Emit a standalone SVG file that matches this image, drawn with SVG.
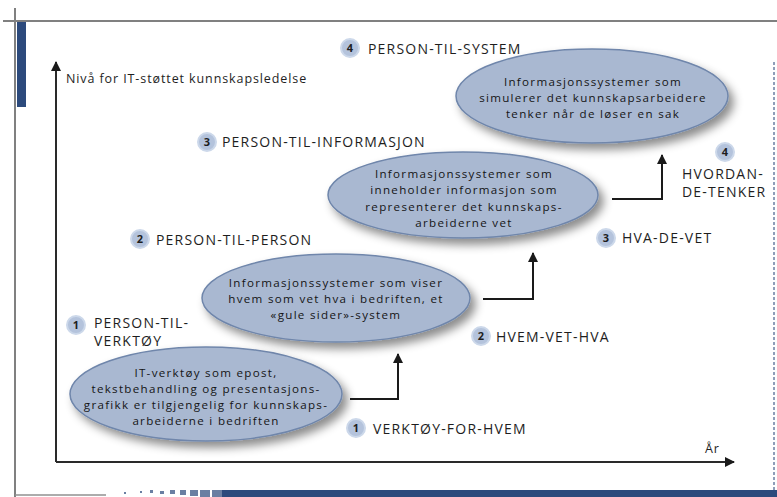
<svg xmlns="http://www.w3.org/2000/svg" width="777" height="497" viewBox="0 0 777 497">
<style>
.frame{stroke:#808080;stroke-width:2;fill:none}
.bar{fill:#2c4a7c}
.axis{stroke:#2a2a2a;stroke-width:2;fill:none}
.conn{stroke:#1a1a1a;stroke-width:2;fill:none}
.ell{fill:#a9b8d1;stroke:#6f86ab;stroke-width:1.5}
.et{font-family:"Open Sans","Noto Sans",sans-serif;font-size:11.6px;fill:#151515;text-anchor:middle;letter-spacing:1.3px}
.lab{font-family:"Open Sans","Noto Sans",sans-serif;font-size:14px;fill:#1e1e1e;letter-spacing:1.2px}
.ax{font-family:"Open Sans","Noto Sans",sans-serif;font-size:12.5px;fill:#1e1e1e;letter-spacing:0.9px}
.badge circle{fill:#b4c3dc;stroke:#ccd8ea;stroke-width:2}
.badge text{font-family:"Open Sans","Noto Sans",sans-serif;font-size:11px;font-weight:bold;fill:#1e1e1e;text-anchor:middle}
</style>
<defs>
<filter id="sh" x="-20%" y="-30%" width="150%" height="170%">
<feDropShadow dx="5" dy="6" stdDeviation="5" flood-color="#000" flood-opacity="0.45"/>
</filter>
<marker id="ah" viewBox="0 0 10 10" refX="9" refY="5" markerWidth="5" markerHeight="5" orient="auto" markerUnits="strokeWidth">
<path d="M0,0 L10,5 L0,10 z" fill="#1a1a1a"/>
</marker>
</defs>
<rect width="777" height="497" fill="#ffffff"/>
<g id="frame">
<line class="frame" x1="3" y1="21" x2="777" y2="21"/>
<line class="frame" x1="15" y1="8" x2="15" y2="497"/>
<rect class="bar" x="17" y="22" width="9" height="85"/>
<line x1="774" y1="62" x2="774" y2="490" stroke="#6b7fa3" stroke-width="1.5" stroke-dasharray="3 2"/>
<rect class="bar" x="222" y="490" width="555" height="7"/>
<line x1="15" y1="495" x2="106" y2="495" stroke="#909090" stroke-width="1.5"/>
<g fill="#2c4a7c" opacity="0.7">
<rect x="124" y="492" width="2" height="2"/><rect x="140" y="491" width="2" height="2"/><rect x="150" y="490" width="3" height="3"/><rect x="160" y="491" width="4" height="3"/><rect x="170" y="490" width="5" height="4"/><rect x="180" y="490" width="6" height="5"/><rect x="190" y="490" width="8" height="6"/><rect x="200" y="490" width="10" height="7"/><rect x="212" y="490" width="10" height="7"/>
</g>
</g>
<g id="axes">
<line class="axis" x1="56" y1="462" x2="56" y2="62" marker-end="url(#ah)"/>
<line class="axis" x1="56" y1="462" x2="734" y2="462" marker-end="url(#ah)"/>
<text class="ax" x="66" y="83">Nivå for IT-støttet kunnskapsledelse</text>
<text class="ax" x="705" y="453">År</text>
</g>
<g id="connectors">
<polyline class="conn" points="350,399 398,399 398,354" marker-end="url(#ah)"/>
<polyline class="conn" points="483,299 533,299 533,253" marker-end="url(#ah)"/>
<polyline class="conn" points="612,199 662,199 662,155" marker-end="url(#ah)"/>
</g>
<g id="node1">
<ellipse class="ell" cx="206" cy="394" rx="136" ry="47" filter="url(#sh)"/>
<text class="et" x="206" y="377">IT-verktøy som epost,</text>
<text class="et" x="206" y="393">tekstbehandling og presentasjons-</text>
<text class="et" x="206" y="409">grafikk er tilgjengelig for kunnskaps-</text>
<text class="et" x="206" y="425">arbeiderne i bedriften</text>
</g>
<g id="node2">
<ellipse class="ell" cx="336" cy="298" rx="134" ry="44" filter="url(#sh)"/>
<text class="et" x="336" y="287">Informasjonssystemer som viser</text>
<text class="et" x="336" y="303">hvem som vet hva i bedriften, et</text>
<text class="et" x="336" y="319">«gule sider»-system</text>
</g>
<g id="node3">
<ellipse class="ell" cx="463" cy="195" rx="135" ry="43" filter="url(#sh)"/>
<text class="et" x="464" y="178">Informasjonssystemer som</text>
<text class="et" x="464" y="194">inneholder informasjon som</text>
<text class="et" x="464" y="211">representerer det kunnskaps-</text>
<text class="et" x="464" y="227">arbeiderne vet</text>
</g>
<g id="node4">
<ellipse class="ell" cx="592" cy="96" rx="136" ry="47" filter="url(#sh)"/>
<text class="et" x="593" y="86">Informasjonssystemer som</text>
<text class="et" x="593" y="102">simulerer det kunnskapsarbeidere</text>
<text class="et" x="593" y="118">tenker når de løser en sak</text>
</g>
<g id="label-p4">
<g class="badge"><circle cx="350" cy="48" r="9"/><text x="350" y="52">4</text></g>
<text class="lab" x="368" y="54">PERSON-TIL-SYSTEM</text>
</g>
<g id="label-p3">
<g class="badge"><circle cx="207" cy="142" r="9"/><text x="207" y="146">3</text></g>
<text class="lab" x="222" y="147">PERSON-TIL-INFORMASJON</text>
</g>
<g id="label-p2">
<g class="badge"><circle cx="140" cy="239" r="9"/><text x="140" y="243">2</text></g>
<text class="lab" x="156" y="245">PERSON-TIL-PERSON</text>
</g>
<g id="label-p1">
<g class="badge"><circle cx="76" cy="325" r="9"/><text x="76" y="329">1</text></g>
<text class="lab" x="94" y="328">PERSON-TIL-</text>
<text class="lab" x="94" y="346">VERKTØY</text>
</g>
<g id="label-v1">
<g class="badge"><circle cx="356" cy="428" r="9"/><text x="356" y="432">1</text></g>
<text class="lab" x="373" y="434">VERKTØY-FOR-HVEM</text>
</g>
<g id="label-v2">
<g class="badge"><circle cx="481" cy="336" r="9"/><text x="481" y="340">2</text></g>
<text class="lab" x="496" y="342">HVEM-VET-HVA</text>
</g>
<g id="label-v3">
<g class="badge"><circle cx="606" cy="238" r="9"/><text x="606" y="242">3</text></g>
<text class="lab" x="622" y="243">HVA-DE-VET</text>
</g>
<g id="label-v4">
<g class="badge"><circle cx="725" cy="152" r="9"/><text x="725" y="156">4</text></g>
<text class="lab" x="682" y="179">HVORDAN-</text>
<text class="lab" x="682" y="197">DE-TENKER</text>
</g>
</svg>
